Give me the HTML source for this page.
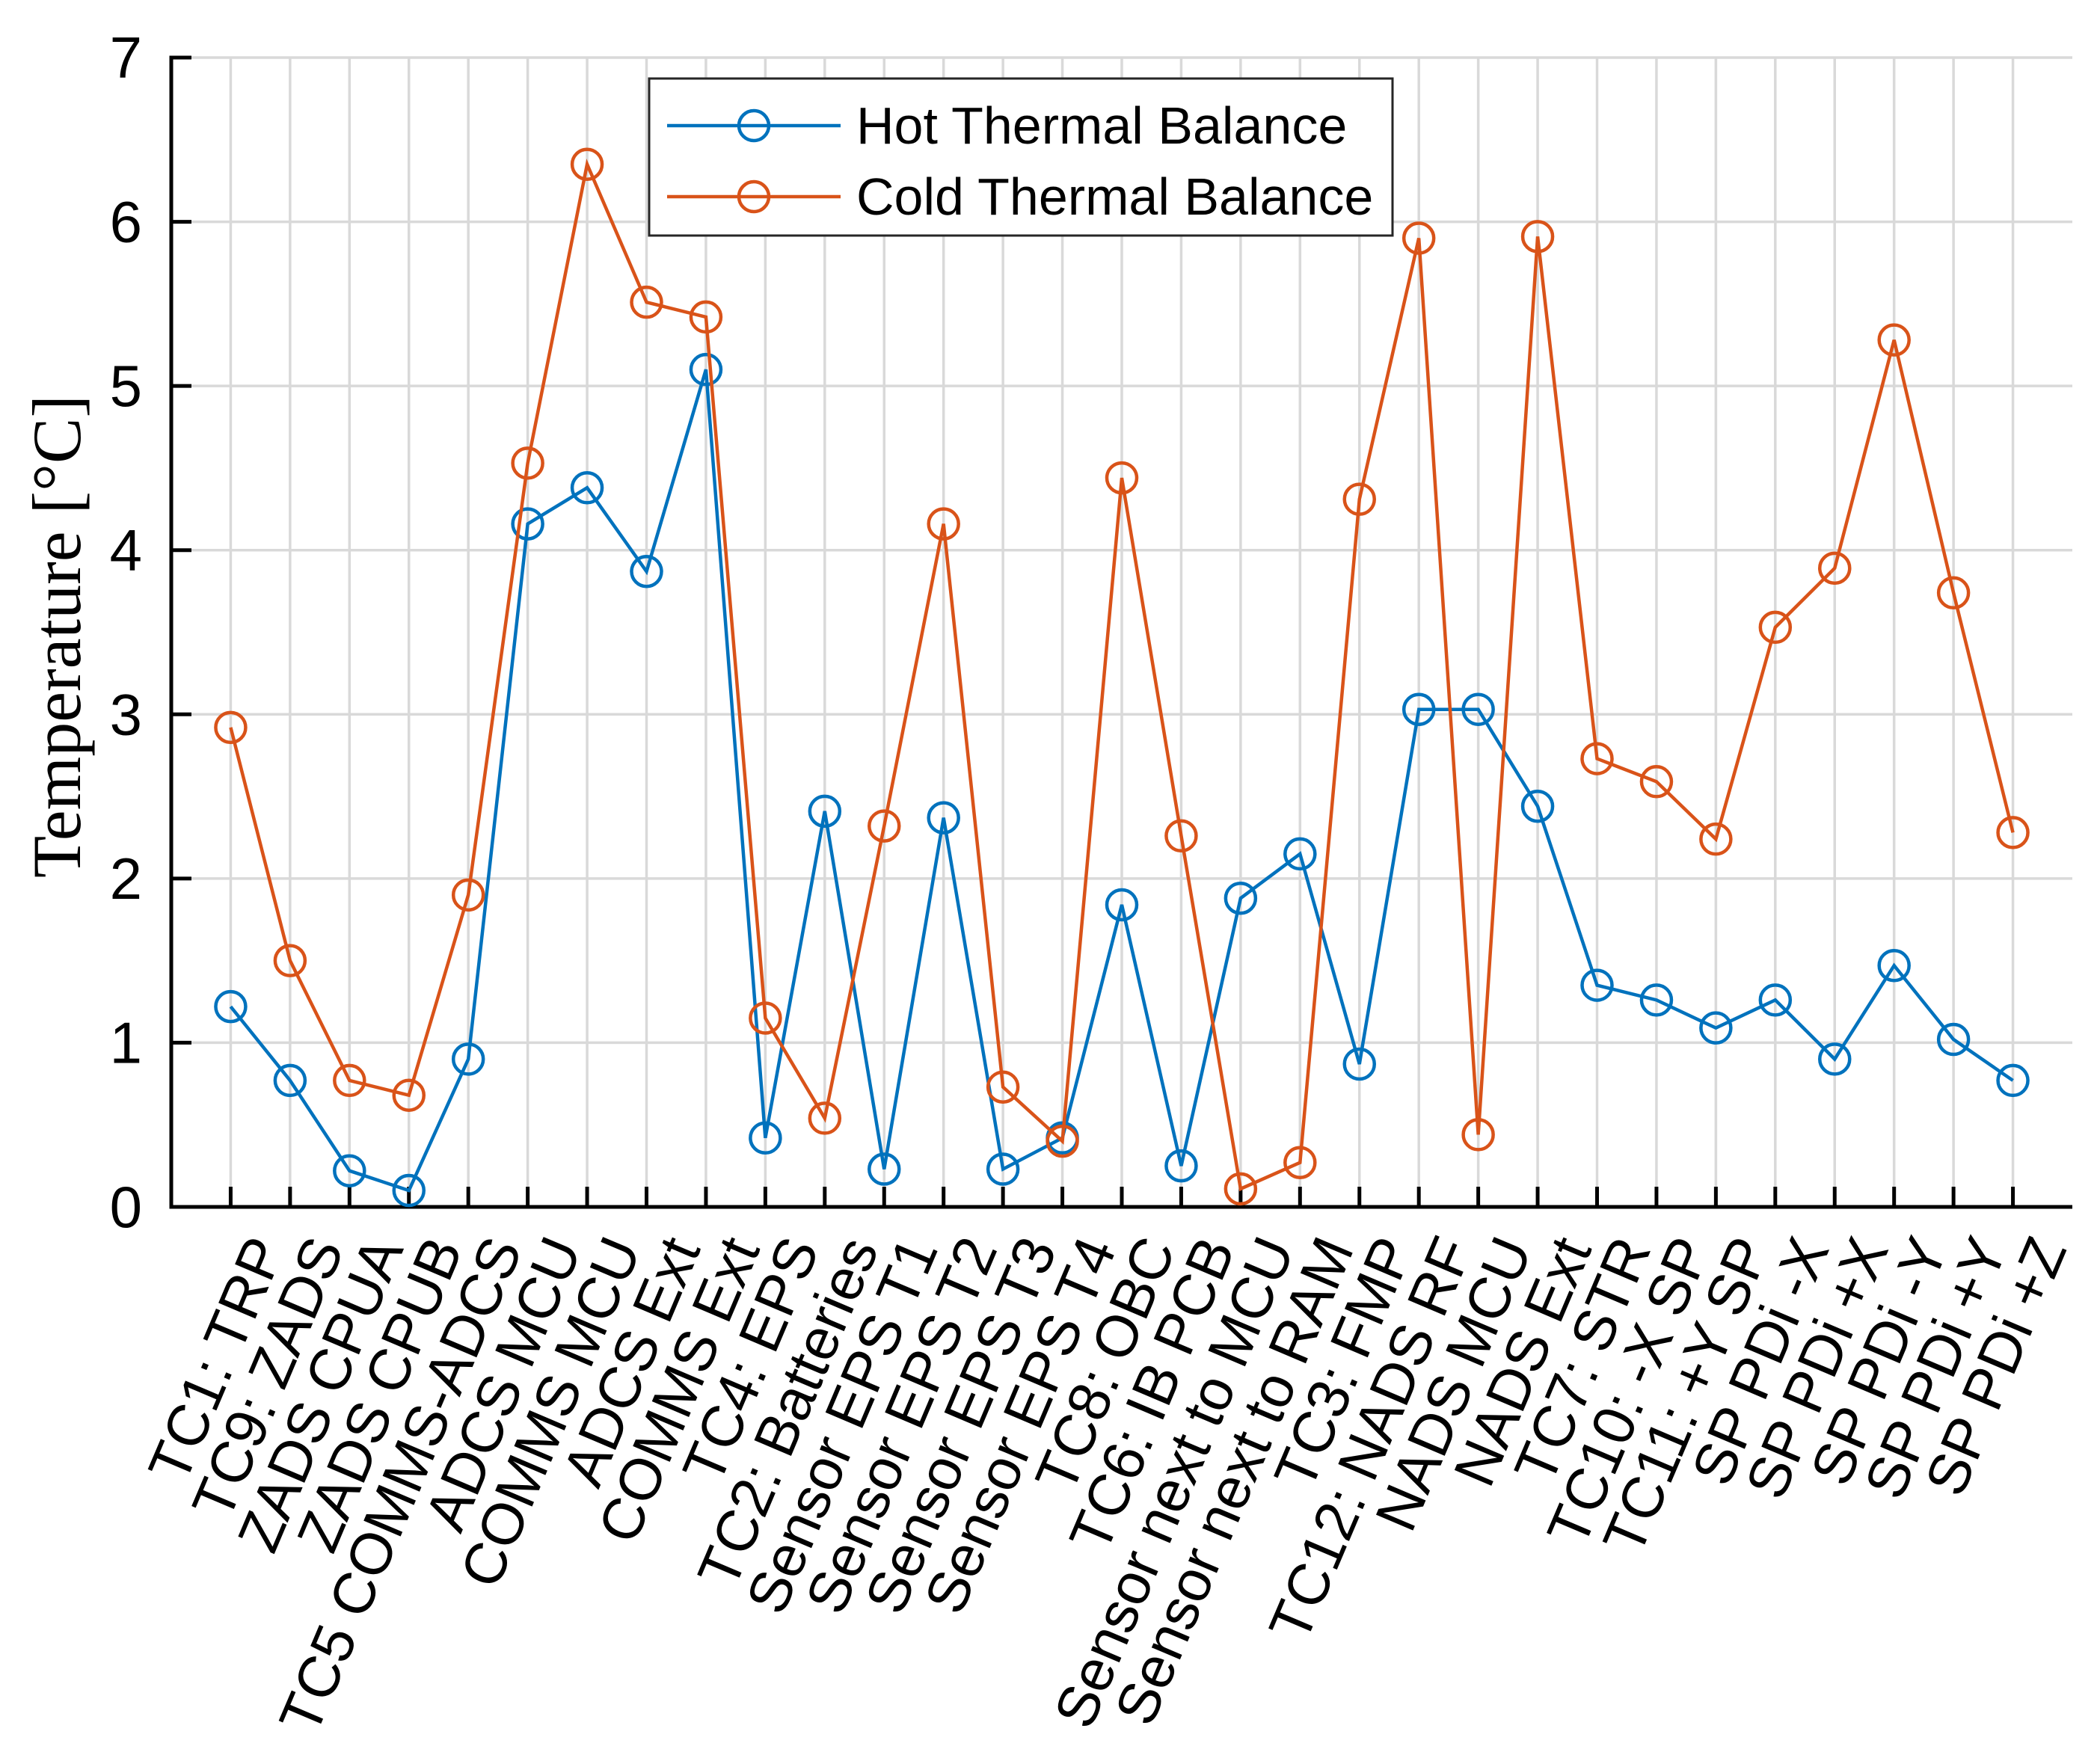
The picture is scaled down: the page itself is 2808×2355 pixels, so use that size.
<!DOCTYPE html>
<html><head><meta charset="utf-8"><style>
html,body{margin:0;padding:0;background:#fff}
svg{display:block}
text{font-family:"Liberation Sans",sans-serif;fill:#000}
</style></head><body>
<svg id="chart" width="2808" height="2355" viewBox="0 0 2808 2355" xmlns="http://www.w3.org/2000/svg">
<g id="grid"></g>
<g id="axes"></g>
<g id="series"></g>
<text transform="translate(76,851) rotate(-90)" text-anchor="middle" dominant-baseline="central" style="font-family:'Liberation Serif',serif;font-size:92px">Temperature [°C]</text>
<g>
<rect x="868" y="105" width="994" height="210" fill="#fff" stroke="#262626" stroke-width="3"/>
<g>
<line x1="892" y1="168" x2="1124" y2="168" stroke="#0072BD" stroke-width="4.5"/>
<circle cx="1008" cy="168" r="20" fill="none" stroke="#0072BD" stroke-width="4.5"/>
<text x="1145" y="168" dominant-baseline="central" font-size="70">Hot Thermal Balance</text>
</g>
<g>
<line x1="892" y1="263" x2="1124" y2="263" stroke="#D95319" stroke-width="4.5"/>
<circle cx="1008" cy="263" r="20" fill="none" stroke="#D95319" stroke-width="4.5"/>
<text x="1145" y="263" dominant-baseline="central" font-size="70">Cold Thermal Balance</text>
</g>
</g>
</svg>
<script>
const categories = ["TC1: TRP","TC9: ZADS","ZADS CPUA","ZADS CPUB","TC5 COMMS-ADCS","ADCS MCU","COMMS MCU","ADCS Ext","COMMS Ext","TC4: EPS","TC2: Batteries","Sensor EPS T1","Sensor EPS T2","Sensor EPS T3","Sensor EPS T4","TC8: OBC","TC6: IB PCB","Sensor next to MCU","Sensor next to RAM","TC3: FMP","TC12: NADS RF","NADS MCU","NADS Ext","TC7: STR","TC10: -X SP","TC11: +Y SP","SP PDi -X","SP PDi +X","SP PDi -Y","SP PDi +Y","SP PDi +Z"];
const hotValues = [1.22,0.77,0.22,0.10,0.90,4.16,4.38,3.87,5.10,0.42,2.41,0.23,2.37,0.23,0.42,1.84,0.25,1.88,2.15,0.87,3.03,3.03,2.44,1.35,1.26,1.09,1.26,0.90,1.47,1.02,0.77];
const coldValues = [2.92,1.50,0.77,0.68,1.90,4.53,6.35,5.51,5.42,1.15,0.54,2.32,4.16,0.73,0.40,4.44,2.26,0.11,0.27,4.31,5.90,0.44,5.91,2.73,2.59,2.24,3.53,3.89,5.28,3.74,2.28];
const yTicks = [0,1,2,3,4,5,6,7];

const NS="http://www.w3.org/2000/svg";
const L=229,R=2771,T=77,B=1614;
const xMin=0,xMax=categories.length+1,yMin=0,yMax=7;
function xs(i){return L+(i-xMin)/(xMax-xMin)*(R-L);}
function ys(v){return B-(v-yMin)/(yMax-yMin)*(B-T);}
function mk(tag,attrs,parent){const e=document.createElementNS(NS,tag);for(const k in attrs)e.setAttribute(k,attrs[k]);parent.appendChild(e);return e;}
const grid=document.getElementById('grid'),axes=document.getElementById('axes'),ser=document.getElementById('series');
categories.forEach((c,i)=>{
  const x=xs(i+1);
  const g=mk('line',{x1:x,x2:x,y1:T,y2:B,stroke:'#d9d9d9','stroke-width':3.5},grid);
  
  
});
yTicks.forEach(v=>{
  const y=ys(v);
  const g=mk('line',{x1:L,x2:R,y1:y,y2:y,stroke:'#d9d9d9','stroke-width':3.5},grid);
  
  
});
const ya=mk('line',{x1:L,x2:L,y1:T-2.5,y2:B+2.5,stroke:'#000','stroke-width':5},axes);


const xa=mk('line',{x1:L-2.5,x2:R,y1:B,y2:B,stroke:'#000','stroke-width':5},axes);


yTicks.forEach(v=>{
  const y=ys(v);
  const t=mk('line',{x1:L,x2:L+27,y1:y,y2:y,stroke:'#000','stroke-width':5},axes);
  
  
  const lb=mk('text',{x:190,y:y,'text-anchor':'end','dominant-baseline':'central','font-size':78},axes);
  lb.textContent=v;
  
  
});
categories.forEach((c,i)=>{
  const x=xs(i+1);
  const t=mk('line',{x1:x,x2:x,y1:B,y2:B-27,stroke:'#000','stroke-width':5},axes);
  
  
  const lb=mk('text',{transform:`translate(${x+48},${B+45}) rotate(-67)`,'text-anchor':'end','dominant-baseline':'central','font-size':78},axes);
  lb.textContent=c;
  
  
});
function drawSeries(vals,color,name){
  const g=mk('g',{},ser);
  
  
  const pts=vals.map((v,i)=>xs(i+1)+','+ys(v)).join(' ');
  const pl=mk('polyline',{points:pts,fill:'none',stroke:color,'stroke-width':4.5,'stroke-linejoin':'miter'},g);
  
  
  vals.forEach((v,i)=>{
    const c=mk('circle',{cx:xs(i+1),cy:ys(v),r:20,fill:'none',stroke:color,'stroke-width':4.5},g);
    
    
  });
}
drawSeries(hotValues,'#0072BD','hot-series');
drawSeries(coldValues,'#D95319','cold-series');
</script>
</body></html>
